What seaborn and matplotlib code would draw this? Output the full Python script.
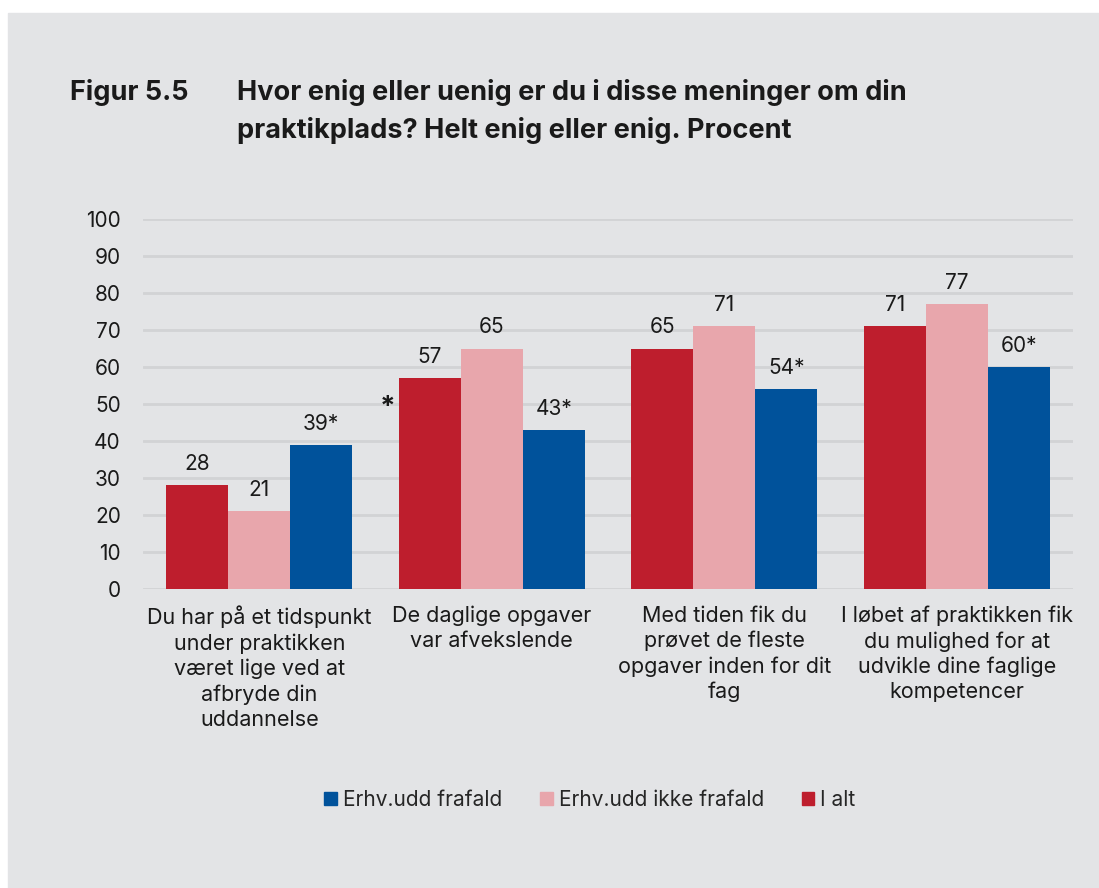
import matplotlib
matplotlib.use('Agg')
import matplotlib.pyplot as plt
import matplotlib.patches as mpatches
import seaborn as sns
import pandas as pd

# data
questions = ['Du har på et tidspunkt\nunder praktikken\nværet lige ved at\nafbryde din\nuddannelse',
             'De daglige opgaver\nvar afvekslende',
             'Med tiden fik du\nprøvet de fleste\nopgaver inden for dit\nfag',
             'I løbet af praktikken fik\ndu mulighed for at\nudvikle dine faglige\nkompetencer']
groups = ['I alt', 'Erhv.udd ikke frafald', 'Erhv.udd frafald']
i_alt = [28, 57, 65, 71]
ikke_frafald = [21, 65, 71, 77]
frafald = [39, 43, 54, 60]
labels_i_alt = ['28', '57', '65', '71']
labels_ikke = ['21', '65', '71', '77']
labels_frafald = ['39*', '43*', '54*', '60*']

colors = {'I alt': '#BE1E2D', 'Erhv.udd ikke frafald': '#E8A6AC', 'Erhv.udd frafald': '#00529B'}
bg = '#E3E4E6'

df = pd.DataFrame({
    'question': questions * 3,
    'group': [g for g in groups for _ in questions],
    'value': i_alt + ikke_frafald + frafald,
})

sns.set_theme(style='white')
plt.rcParams['font.family'] = ['Inter', 'DejaVu Sans']

fig = plt.figure(figsize=(10.99, 8.88), dpi=100)
fig.patch.set_facecolor('white')
fig.patches.append(mpatches.Rectangle((8/1099, 0), 1 - 8/1099, 1 - 13/888,
                                      transform=fig.transFigure, color=bg, zorder=-10))

ax = fig.add_axes([143/1099, 1 - 589/888, 930/1099, 370/888])
ax.set_facecolor(bg)

sns.barplot(data=df, x='question', y='value', hue='group', hue_order=groups,
            palette=colors, width=0.8, ax=ax, legend=False, saturation=1, linewidth=0)

# value labels
all_labels = [labels_i_alt, labels_ikke, labels_frafald]
for cont, labs in zip(ax.containers, all_labels):
    ax.bar_label(cont, labels=labs, padding=8, fontsize=15, color='#1a1a1a')

# the stray asterisk next to the second group
ax.text(0.55, 49, '*', fontsize=20, fontweight='bold', ha='center', va='center', color='#1a1a1a')

ax.set_ylim(0, 100)
ax.set_xlim(-0.5, 3.5)
ax.set_yticks(range(0, 101, 10))
ax.yaxis.grid(True, color='#D2D3D5', linewidth=2)
ax.set_axisbelow(True)
for s in ax.spines.values():
    s.set_visible(False)
ax.tick_params(axis='y', labelsize=15, pad=16, length=0, colors='#1a1a1a')
ax.tick_params(axis='x', labelsize=15.5, pad=12, length=0, colors='#1a1a1a')
for t in ax.get_xticklabels():
    t.set_linespacing(1.3)
ax.set_xlabel('')
ax.set_ylabel('')

# title
tkw = dict(fontsize=19.5, fontweight='bold', va='center', color='#1a1a1a')
fig.text(70/1099, 1 - 92/888, 'Figur 5.5', **tkw)
fig.text(237/1099, 1 - 92/888, 'Hvor enig eller uenig er du i disse meninger om din', **tkw)
fig.text(237/1099, 1 - 131/888, 'praktikplads? Helt enig eller enig. Procent', **tkw)

# legend, reversed order
handles = [mpatches.Patch(color=colors[g], label=g) for g in groups[::-1]]
fig.legend(handles=handles, loc='center', bbox_to_anchor=(590/1099, 1 - 800/888), ncol=3,
           frameon=False, fontsize=15, handlelength=0.6, handleheight=0.6,
           handletextpad=0.3, columnspacing=1.8)

fig.savefig('out.png', dpi=100, facecolor=fig.get_facecolor())
